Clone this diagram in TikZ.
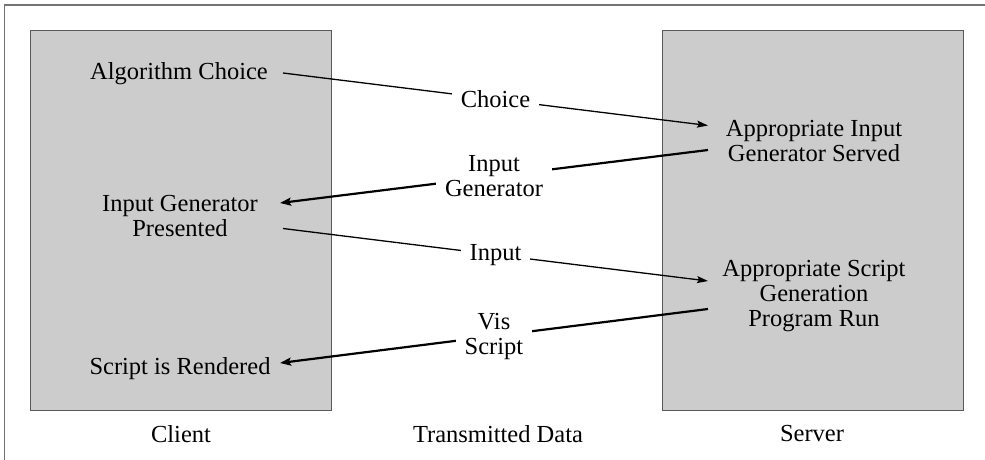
\documentclass[tikz,border=0pt]{standalone}
\usepackage{fontspec}
\setmainfont{Liberation Serif}
\usetikzlibrary{arrows.meta}
\begin{document}
\begin{tikzpicture}[x=1pt,y=-1pt,
  panel/.style={draw=black!65,fill=black!20,line width=1pt},
  frame/.style={draw=black!55,line width=1.2pt},
  txt/.style={font=\fontsize{24.5}{25}\selectfont,align=center,inner sep=0pt},
  msg/.style={txt,fill=white,inner xsep=9pt,inner ysep=2pt},
  fwd/.style={line width=1.3pt,-{Stealth[length=11pt,width=7pt,inset=2pt]}},
  bwd/.style={line width=2.2pt,-{Stealth[length=11pt,width=8pt,inset=2pt]}}]
\useasboundingbox (0,0) rectangle (985,460);
% outer frame (top and left edges visible)
\draw[frame] (4.5,460) -- (4.5,5) -- (985,5);
% panels
\path[panel] (30.5,31) rectangle (331,410);
\path[panel] (662,31) rectangle (963,410);
% client side
\node[txt] (alg) at (179,74) {Algorithm Choice};
\node[txt] (pres) at (180,216) {Input Generator\\Presented};
\node[txt] (rend) at (180,369) {Script is Rendered};
% server side
\node[txt] (served) at (814,141) {Appropriate Input\\Generator Served};
\node[txt] (run) at (814,296) {Appropriate Script\\Generation\\Program Run};
% captions
\node[txt] (client) at (181,434) {Client};
\node[txt] (trans) at (498,434) {Transmitted Data};
\node[txt] (server) at (812,434) {Server};
% connector ends
\coordinate (c1s) at (283,73);
\coordinate (c1e) at (708,125.5);
\coordinate (c2s) at (708,150);
\coordinate (c2e) at (280,203);
\coordinate (c3s) at (283,228.5);
\coordinate (c3e) at (708,281);
\coordinate (c4s) at (708,309);
\coordinate (c4e) at (280,363);
% connectors
\draw[fwd] (c1s) -- node[msg] (m1) {Choice} (c1e);
\draw[bwd] (c2s) -- node[msg] (m2) {Input\\Generator} (c2e);
\draw[fwd] (c3s) -- node[msg] (m3) {Input} (c3e);
\draw[bwd] (c4s) -- node[msg] (m4) {Vis\\Script} (c4e);
\end{tikzpicture}
\end{document}
